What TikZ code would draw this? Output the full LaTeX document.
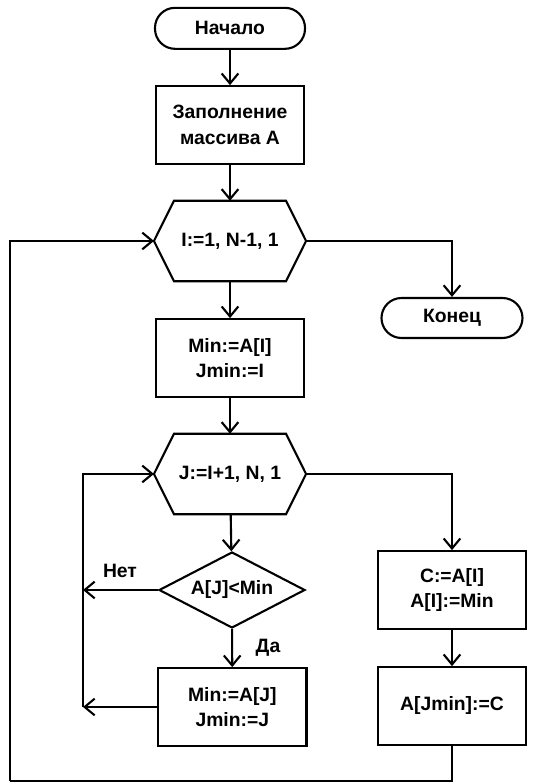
\documentclass[tikz,border=0pt]{standalone}
\usepackage{fontspec}
\setmainfont{Liberation Sans}
\usepackage{tikz}
\usetikzlibrary{arrows.meta,shapes.geometric}

\tikzset{
    every node/.style={font=\fontsize{16.5}{22}\selectfont\bfseries, align=center},
    terminal/.style={draw, rounded corners=0.6cm, minimum width=4.5cm, minimum height=1.23cm},
    block/.style={draw, minimum width=4.45cm, minimum height=2.33cm},
    loophead/.style={minimum width=4.5cm, minimum height=2.35cm, inner sep=0pt},
    test/.style={draw, diamond, aspect=2, inner sep=0pt, minimum width=4.38cm, minimum height=2.28cm},
    flow/.style={-{Straight Barb[length=3mm,width=5mm]}}
}

% frame of a loop head
\newcommand{\hexframe}[1]{%
    \draw (#1.west) -- ([xshift=0.6cm]#1.north west) -- ([xshift=-0.6cm]#1.north east)
        -- (#1.east) -- ([xshift=-0.6cm]#1.south east) -- ([xshift=0.6cm]#1.south west) -- cycle;}

\begin{document}
\begin{tikzpicture}[line width=1.8pt]
        \useasboundingbox (0,0) rectangle (16.23,23.49);

        % Main column
        \node[terminal] (start) at (6.9,22.64) {Начало};
        \node[block] (fill) at (6.9,19.74) {Заполнение\\массива А};
        \node[loophead] (loopI) at (6.9,16.26) {I:=1, N-1, 1};
        \hexframe{loopI}
        \node[block] (minI) at (6.9,12.75) {Min:=A[I]\\Jmin:=I};
        \node[loophead] (loopJ) at (6.9,9.27) {J:=I+1, N, 1};
        \hexframe{loopJ}
        \node[test] (cmp) at (6.96,5.79) {A[J]<Min};
        \node[block] (minJ) at (6.97,2.28) {Min:=A[J]\\Jmin:=J};

        % Right column
        \node[terminal, minimum width=4.23cm, minimum height=1.2cm] (stop) at (13.56,13.95) {Конец};
        \node[block] (swap) at (13.56,5.79) {C:=A[I]\\A[I]:=Min};
        \node[block] (put) at (13.56,2.31) {A[Jmin]:=C};

        % Back lines of the loops
        \coordinate (backJ) at (2.49,2.28);
        \coordinate (backI) at (0.3,0.06);

        \draw[flow] (start) -- (fill);
        \draw[flow] (fill) -- (loopI);
        \draw[flow] (loopI) -- (minI);
        \draw[flow] (minI) -- (loopJ);
        \draw[flow] (loopJ) -- (cmp);
        \draw[flow] (cmp) -- (minJ);
        \draw[flow] (cmp.west) -- (cmp.west -| backJ);
        \draw[flow] (minJ.west) -- (backJ);
        \draw[flow] (backJ) |- (loopJ.west);
        \draw[flow] (loopJ.east) -| (swap);
        \draw[flow] (swap) -- (put);
        \draw (put) |- (backI);
        \draw[flow] (backI) |- (loopI.west);
        \draw[flow] (loopI.east) -| (stop);

        \node (no) at (3.6,6.36) {Нет};
        \node (yes) at (8.04,4.05) {Да};
\end{tikzpicture}
\end{document}
